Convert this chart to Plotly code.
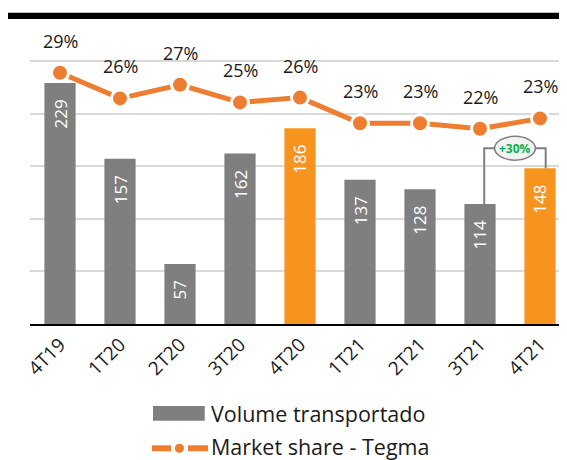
import plotly.graph_objects as go

# ---------------- data ----------------
quarters = ["4T19", "1T20", "2T20", "3T20", "4T20", "1T21", "2T21", "3T21", "4T21"]
volume = [229, 157, 57, 162, 186, 137, 128, 114, 148]          # Volume transportado
market_share = [28.9, 25.7, 27.4, 25.2, 25.8, 22.6, 22.6, 21.9, 23.2]  # Market share - Tegma (%)
highlight = ["4T20", "4T21"]
legend_labels = ["Volume transportado", "Market share - Tegma"]
compare_pair = ["3T21", "4T21"]

# ---------------- style ----------------
GRAY = "#7F7F7F"
BAR_ORANGE = "#F7941D"
LINE_ORANGE = "#ED7D31"
FONT = "Open Sans"

OFF = 8  # page body margin
W, H = 567 - OFF, 460 - OFF
L, R, T, B = 30 - OFF, 0, 29 - OFF, 136
PW, PH = W - L - R, H - T - B


def px_x(px):
    return (px - OFF - L) / PW


def px_y(py):
    return (H - B - (py - OFF)) / PH


x = list(range(len(quarters)))
fig = go.Figure()

fig.add_trace(go.Bar(
    x=x, y=volume, name=legend_labels[0], width=0.52,
    marker=dict(color=[BAR_ORANGE if q in highlight else GRAY for q in quarters], line=dict(width=0)),
    yaxis="y", showlegend=False,
))
fig.add_trace(go.Scatter(
    x=x, y=market_share, name=legend_labels[1], yaxis="y2", mode="lines+markers",
    line=dict(color=LINE_ORANGE, width=5),
    marker=dict(size=17, color=LINE_ORANGE, line=dict(color="white", width=3)),
    showlegend=False,
))

annotations = []
# percentage labels
for i, v in enumerate(market_share):
    annotations.append(dict(x=i, y=v, xref="x", yref="y2", text=f"{v:.0f}%", showarrow=False,
                            yshift=32, font=dict(family=FONT, size=18, color="#1a1a1a")))
# bar labels
for i, v in enumerate(volume):
    annotations.append(dict(x=i, y=v, xref="x", yref="y", text=str(v), showarrow=False,
                            textangle=-90, yanchor="top", yshift=-15,
                            font=dict(family=FONT, size=17, color="white")))

shapes = []
# growth bracket
i0, i1 = quarters.index(compare_pair[0]), quarters.index(compare_pair[1])
growth = volume[i1] / volume[i0] - 1
top = max(volume[i0], volume[i1]) + 19
xl, xr = i0 + 0.07, i1 + 0.095
mid = (xl + xr) / 2
shapes.append(dict(type="path", xref="x", yref="y",
                   path=f"M {xl},{volume[i0]} L {xl},{top} L {xr},{top} L {xr},{volume[i1]}",
                   line=dict(color=GRAY, width=2)))
shapes.append(dict(type="circle", xref="x", yref="y", x0=mid - 0.34, x1=mid + 0.34,
                   y0=top - 11.3, y1=top + 11.3, fillcolor="#F2F2F2", line=dict(color=GRAY, width=1.5)))
annotations.append(dict(x=mid, y=top, xref="x", yref="y", text=f"<b>+{growth*100:.0f}%</b>",
                        showarrow=False, font=dict(family=FONT, size=12, color="#00B050")))

# black rule at top
shapes.append(dict(type="rect", xref="paper", yref="paper", x0=px_x(OFF), x1=px_x(567),
                   y0=px_y(19), y1=px_y(12.7), fillcolor="black", line=dict(width=0)))

# custom legend
shapes.append(dict(type="rect", xref="paper", yref="paper", x0=px_x(153), x1=px_x(204.7),
                   y0=px_y(420.7), y1=px_y(406), fillcolor=GRAY, line=dict(width=0)))
for a, b in [(152, 171), (188, 208)]:
    shapes.append(dict(type="line", xref="paper", yref="paper", x0=px_x(a), x1=px_x(b),
                       y0=px_y(448.3), y1=px_y(448.3), line=dict(color=LINE_ORANGE, width=6)))
shapes.append(dict(type="circle", xref="paper", yref="paper", x0=px_x(174.8), x1=px_x(184),
                   y0=px_y(452.9), y1=px_y(443.7), fillcolor=LINE_ORANGE, line=dict(width=0)))
for label, yy in zip(legend_labels, [413, 446]):
    annotations.append(dict(x=px_x(210), y=px_y(yy), xref="paper", yref="paper", text=label,
                            xanchor="left", yanchor="middle", showarrow=False, borderpad=0,
                            font=dict(family=FONT, size=21.5, color="#1a1a1a")))

fig.update_layout(
    width=W, height=H, margin=dict(l=L, r=R, t=T, b=B, pad=0),
    plot_bgcolor="white", paper_bgcolor="white", showlegend=False,
    font=dict(family=FONT, color="#1a1a1a"),
    xaxis=dict(range=[-0.5, 8.45], tickmode="array", tickvals=x, ticktext=quarters,
               tickangle=-45, tickfont=dict(family=FONT, size=19, color="#1a1a1a"),
               showline=True, linecolor="black", linewidth=2, ticks="", showgrid=False, zeroline=False),
    yaxis=dict(range=[0, 280.3], dtick=50, showticklabels=False, ticks="",
               gridcolor="#D9D9D9", gridwidth=1.5, zeroline=False, showline=False),
    yaxis2=dict(range=[-2.5, 34.375], overlaying="y", showticklabels=False, showgrid=False,
                zeroline=False, ticks=""),
    bargap=0.48,
    annotations=annotations, shapes=shapes,
)

fig.write_html("out.html")
